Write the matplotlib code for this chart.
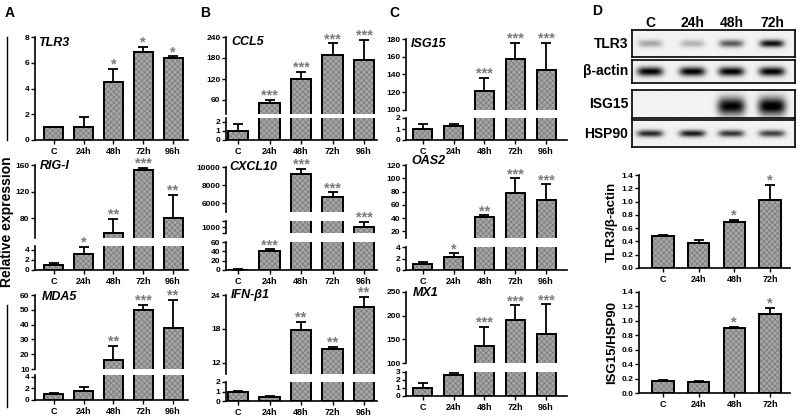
import numpy as np
import matplotlib
matplotlib.use('Agg')
import matplotlib.pyplot as plt
from matplotlib.lines import Line2D

plt.rcParams['font.family'] = ['Liberation Sans', 'DejaVu Sans']
plt.rcParams['font.weight'] = 'bold'
plt.rcParams['hatch.linewidth'] = 0.5

W, H = 800, 416
fig = plt.figure(figsize=(8, 4.16), dpi=100)

# ---- data ----
times = ['C', '24h', '48h', '72h', '96h']
times_d = ['C', '24h', '48h', '72h']

tlr3_mean = [1, 1, 4.5, 6.8, 6.35]
tlr3_err = [1, 1.75, 5.5, 7.25, 6.5]
tlr3_sig = ['', '', '*', '*', '*']

rigi_mean = [1, 3.3, 58, 152, 80]
rigi_err = [1.4, 4.6, 79, 156, 115]
rigi_sig = ['', '*', '**', '***', '**']

mda5_mean = [1, 1.6, 16, 50, 38]
mda5_err = [1.25, 2.3, 25.5, 53.5, 56.5]
mda5_sig = ['', '', '**', '***', '**']

ccl5_mean = [1, 52, 120, 188, 174]
ccl5_err = [1.7, 60, 140, 222, 231]
ccl5_sig = ['', '***', '***', '***', '***']

cxcl10_mean = [1, 40, 9200, 6700, 1000]
cxcl10_err = [1.5, 44, 9800, 7200, 1250]
cxcl10_sig = ['', '***', '***', '***', '***']

ifnb1_mean = [0.9, 0.45, 17.8, 14.5, 21.8]
ifnb1_err = [1.05, 0.55, 19.2, 14.8, 23.7]
ifnb1_sig = ['', '', '**', '**', '**']

isg15_mean = [1, 1.25, 121, 157, 145]
isg15_err = [1.5, 1.5, 136, 176, 176]
isg15_sig = ['', '', '***', '***', '***']

oas2_mean = [1, 2.2, 41, 78, 67]
oas2_err = [1.4, 2.9, 44, 100, 91]
oas2_sig = ['', '*', '**', '***', '***']

mx1_mean = [1, 2.6, 136, 190, 162]
mx1_err = [1.6, 2.9, 176, 222, 224]
mx1_sig = ['', '', '***', '***', '***']

tlr3_actin = [0.48, 0.38, 0.69, 1.02]
tlr3_actin_err = [0.495, 0.415, 0.72, 1.25]
tlr3_actin_sig = ['', '', '*', '*']

isg15_hsp90 = [0.165, 0.155, 0.9, 1.09]
isg15_hsp90_err = [0.18, 0.17, 0.92, 1.18]
isg15_hsp90_sig = ['', '', '*', '*']

# western blot band strength (0 = none, 1 = saturated)
blot_rows = ['TLR3', 'β-actin', 'ISG15', 'HSP90']
band_tlr3 = [0.3, 0.25, 0.6, 0.9]
band_actin = [0.95, 0.95, 0.95, 0.95]
band_isg15 = [0.0, 0.0, 0.95, 1.0]
band_hsp90 = [0.8, 0.85, 0.75, 0.7]


def px_axes(x0, x1, y0, y1):
    return fig.add_axes([x0 / W, 1 - y1 / H, (x1 - x0) / W, (y1 - y0) / H])


def ftext(x, y, s, **kw):
    fig.text(x / W, 1 - y / H, s, **kw)


def draw_bars(ax, mean, err, width):
    x = np.arange(len(mean))
    ax.bar(x, mean, width, color='#a6a6a6', edgecolor='#787878', linewidth=0, hatch='xxxxxx')
    ax.bar(x, mean, width, fill=False, edgecolor='k', linewidth=1.4)
    up = np.array(err) - np.array(mean)
    ax.errorbar(x, mean, yerr=[np.zeros_like(up), up], fmt='none', ecolor='k',
                elinewidth=1.3, capsize=3.5, capthick=1.3)


def style_ax(ax, bottom, labels):
    for s in ['top', 'right']:
        ax.spines[s].set_visible(False)
    ax.spines['left'].set_linewidth(1.2)
    ax.spines['bottom'].set_linewidth(1.2)
    ax.tick_params(axis='y', labelsize=6, length=3, width=1, pad=1)
    if bottom:
        ax.set_xticks(range(len(labels)))
        ax.set_xticklabels(labels)
        ax.tick_params(axis='x', labelsize=6.5, length=3, width=1, pad=2)
    else:
        ax.spines['bottom'].set_visible(False)
        ax.set_xticks([])


def gene_panel(x0, x1, xlim, segs, mean, err, sig, labels, width=0.64):
    axes = []
    for i, (ytop, ybot, lo, hi, ticks, tl) in enumerate(segs):
        ax = px_axes(x0, x1, ytop, ybot)
        draw_bars(ax, mean, err, width)
        ax.set_ylim(lo, hi)
        ax.set_xlim(*xlim)
        ax.set_yticks(ticks)
        ax.set_yticklabels(tl if tl is not None else [f'{t:g}' for t in ticks])
        style_ax(ax, i == len(segs) - 1, labels)
        axes.append(ax)
    for j, s in enumerate(sig):
        if not s:
            continue
        for (ytop, ybot, lo, hi, ticks, tl), ax in zip(segs, axes):
            if lo <= err[j] < hi:
                ax.annotate(s, (j, err[j]), xytext=(0, -2), textcoords='offset points',
                            ha='center', va='bottom', fontsize=10.5, color='#7a7a7a',
                            annotation_clip=False)
                break
    return axes


# ---- panel A ----
xa = (35, 188, (-0.63, 4.5))
gene_panel(xa[0], xa[1], xa[2], [(37, 140, 0, 8, [0, 2, 4, 6, 8], None)],
           tlr3_mean, tlr3_err, tlr3_sig, times)
gene_panel(xa[0], xa[1], xa[2],
           [(165, 238, 50, 160, [80, 120, 160], None),
            (246, 270, 0, 4.8, [0, 2, 4], None)],
           rigi_mean, rigi_err, rigi_sig, times)
gene_panel(xa[0], xa[1], xa[2],
           [(295, 369, 10, 60, [10, 20, 30, 40, 50, 60], None),
            (375, 400, 0, 4.3, [0, 2, 4], None)],
           mda5_mean, mda5_err, mda5_sig, times)

# ---- panel B ----
xb = (226, 377, (-0.38, 4.41))
gene_panel(xb[0], xb[1], xb[2],
           [(37, 114, 20, 240, [60, 120, 180, 240], None),
            (118, 140, 0, 2.4, [0, 1, 2], None)],
           ccl5_mean, ccl5_err, ccl5_sig, times)
gene_panel(xb[0], xb[1], xb[2],
           [(167, 212, 5000, 10000, [6000, 8000, 10000], None),
            (221, 233, 700, 1300, [700, 1000, 1300], ['', '1000', '']),
            (242, 270, 0, 60, [0, 20, 40, 60], None)],
           cxcl10_mean, cxcl10_err, cxcl10_sig, times)
gene_panel(xb[0], xb[1], xb[2],
           [(295, 374, 10, 24, [12, 18, 24], None),
            (382, 401, 0, 2, [0, 1, 2], None)],
           ifnb1_mean, ifnb1_err, ifnb1_sig, times)

# ---- panel C ----
xc = (406, 567, (-0.55, 4.68))
gene_panel(xc[0], xc[1], xc[2],
           [(39, 110, 100, 180, [100, 120, 140, 160, 180], None),
            (118, 140, 0, 2, [0, 1, 2], None)],
           isg15_mean, isg15_err, isg15_sig, times, width=0.62)
gene_panel(xc[0], xc[1], xc[2],
           [(165, 238, 10, 120, [20, 40, 60, 80, 100, 120], None),
            (247, 270, 0, 4, [0, 2, 4], None)],
           oas2_mean, oas2_err, oas2_sig, times, width=0.62)
gene_panel(xc[0], xc[1], xc[2],
           [(292, 363, 100, 250, [100, 150, 200, 250], None),
            (372, 396, 0, 3, [0, 1, 2, 3], None)],
           mx1_mean, mx1_err, mx1_sig, times, width=0.62)

# gene names
gname = dict(fontsize=9, fontweight='bold', style='italic', va='center', ha='left')
ftext(38, 43, 'TLR3', **gname)
ftext(40, 166, 'RIG-I', **gname)
ftext(42, 297, 'MDA5', **gname)
ftext(231, 42, 'CCL5', **gname)
ftext(229, 167, 'CXCL10', **gname)
ftext(231, 295, 'IFN-β1', **gname)
ftext(411, 44, 'ISG15', **gname)
ftext(411, 161, 'OAS2', **gname)
ftext(413, 293, 'MX1', **gname)

# ---- panel D quantification ----
xd = (639, 790, (-0.67, 3.56))
ax1 = gene_panel(xd[0], xd[1], xd[2],
                 [(175, 268, 0, 1.4, np.arange(0, 1.41, 0.2), None)],
                 tlr3_actin, tlr3_actin_err, tlr3_actin_sig, times_d, width=0.6)[0]
ax1.set_yticklabels([f'{t:.1f}' for t in np.arange(0, 1.41, 0.2)])
ax2 = gene_panel(xd[0], xd[1], xd[2],
                 [(292, 393, 0, 1.4, np.arange(0, 1.41, 0.2), None)],
                 isg15_hsp90, isg15_hsp90_err, isg15_hsp90_sig, times_d, width=0.6)[0]
ax2.set_yticklabels([f'{t:.1f}' for t in np.arange(0, 1.41, 0.2)])
ftext(612, 222, 'TLR3/β-actin', fontsize=9.5, fontweight='bold', rotation=90, ha='center', va='center')
ftext(612, 343, 'ISG15/HSP90', fontsize=9.5, fontweight='bold', rotation=90, ha='center', va='center')

# ---- panel D blots ----
lane_x = [0.11, 0.37, 0.61, 0.86]


def blot_image(levels, yc, h, w=0.075, bg=0.05):
    xx = np.linspace(0, 1, 240)
    yy = np.linspace(0, 1, 60)
    X, Y = np.meshgrid(xx, yy)
    img = np.full(X.shape, bg)
    for c, a in zip(lane_x, levels):
        img += a * np.exp(-((X - c) / w) ** 4) * np.exp(-((Y - yc) / h) ** 2)
    return np.clip(img, 0, 1)


blot_boxes = [(30, 57), (60, 83), (90, 118), (120, 147)]
blot_levels = [band_tlr3, band_actin, band_isg15, band_hsp90]
blot_shape = [(0.5, 0.14, 0.075), (0.5, 0.2, 0.08), (0.42, 0.32, 0.085), (0.5, 0.13, 0.08)]
for (y0, y1), lev, (yc, hh, ww), name in zip(blot_boxes, blot_levels, blot_shape, blot_rows):
    ax = px_axes(632, 795, y0, y1)
    ax.imshow(blot_image(lev, yc, hh, ww), cmap='gray_r', vmin=0, vmax=1,
              extent=[0, 1, 0, 1], aspect='auto', origin='lower')
    ax.set_xticks([])
    ax.set_yticks([])
    for s in ax.spines.values():
        s.set_linewidth(1.2)
    ftext(628, (y0 + y1) / 2, name, fontsize=10, fontweight='bold', ha='right', va='center')

for xl, t in zip([650, 692, 732, 772], times_d):
    ftext(xl, 23, t, fontsize=10, fontweight='bold', ha='center', va='center')

# ---- letters and common label ----
for xl, yl, t in [(10, 13, 'A'), (205, 13, 'B'), (394, 13, 'C'), (597, 11, 'D')]:
    ftext(xl, yl, t, fontsize=10, fontweight='bold', ha='center', va='center')

ftext(7, 222, 'Relative expression', fontsize=10, fontweight='bold', rotation=90, ha='center', va='center')
fig.add_artist(Line2D([7 / W, 7 / W], [1 - 37 / H, 1 - 140 / H], color='k', lw=1))
fig.add_artist(Line2D([7 / W, 7 / W], [1 - 305 / H, 1 - 407 / H], color='k', lw=1))

fig.savefig('out.png', dpi=100)
